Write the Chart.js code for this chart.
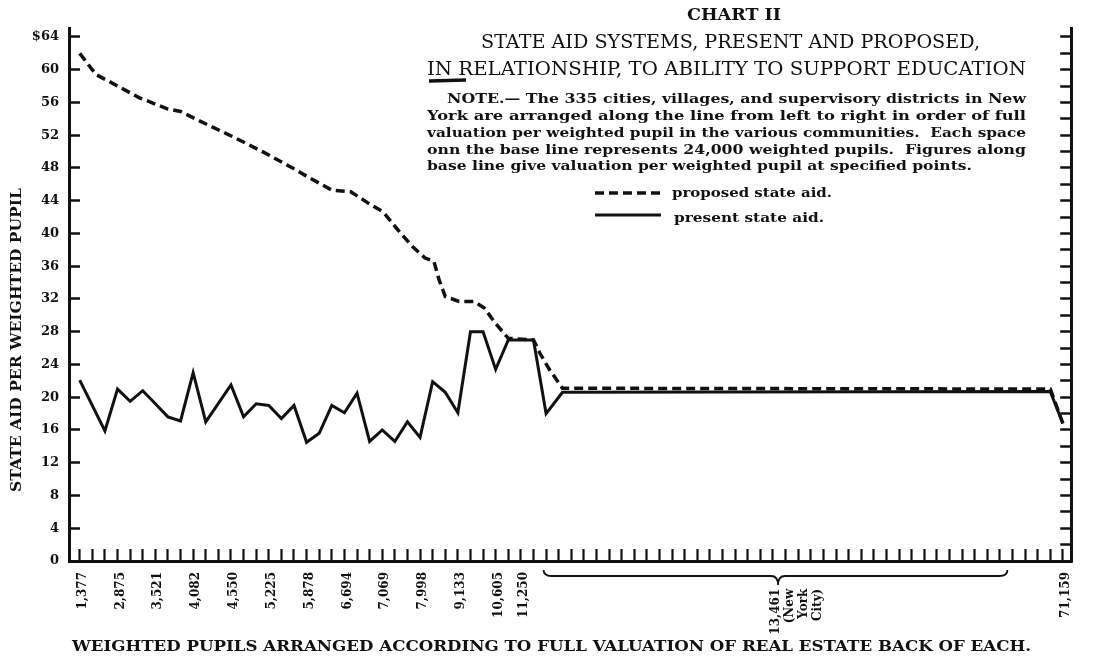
<!DOCTYPE html>
<html>
<head>
<meta charset="utf-8">
<script src="https://cdn.jsdelivr.net/npm/chart.js@4.4.1/dist/chart.umd.min.js"></script>
<style>
  body { margin: 0; background: #fff; }
  canvas { display: block; }
</style>
</head>
<body>
<canvas id="myChart" width="1100" height="658"></canvas>
<script>
    // x = position on the base line, in spaces of 24,000 weighted pupils
    var presentX = [0, 2, 3, 4, 5, 6, 7, 8, 9, 10, 12, 13, 14, 15, 16, 17, 18, 19, 20, 21, 22, 23, 24, 25, 26, 27, 28, 29, 30, 31, 32, 33, 34, 36, 37, 38.3, 77, 78];
    var presentY = [22.1, 15.9, 21.0, 19.5, 20.8, 19.2, 17.6, 17.1, 23.0, 17.0, 21.5, 17.6, 19.2, 19.0, 17.4, 19.0, 14.5, 15.6, 19.0, 18.1, 20.5, 14.6, 16.0, 14.6, 17.0, 15.1, 21.9, 20.6, 18.1, 28.0, 28.0, 23.4, 27.0, 27.0, 18.0, 20.6, 20.7, 16.8];

    var proposedX = [0, 1.3, 2.3, 4.7, 7.0, 8.0, 9.3, 11.9, 14.5, 17.0, 18.1, 20.0, 21.5, 22.8, 24.1, 25.1, 26.4, 27.4, 28.1, 28.5, 29.0, 30.1, 31.3, 32.1, 33.0, 34.0, 36.0, 36.5, 37.3, 38.3, 77, 78];
    var proposedY = [62.0, 59.4, 58.6, 56.6, 55.2, 54.9, 53.9, 52.0, 50.0, 47.9, 46.9, 45.3, 45.1, 43.8, 42.6, 40.7, 38.4, 37.0, 36.6, 34.4, 32.3, 31.7, 31.7, 30.9, 29.0, 27.2, 27.0, 25.4, 23.3, 21.1, 21.0, 16.8];

    // valuation per weighted pupil written along the base line
    var labelAt = [0, 3, 6, 9, 12, 15, 18, 21, 24, 27, 30, 33, 35, 55, 78];
    var labelText = ['1,377', '2,875', '3,521', '4,082', '4,550', '5,225', '5,878', '6,694', '7,069', '7,998', '9,133', '10,605', '11,250',
                     ['13,461    ', '(New    ', 'York    ', 'City)    '], '71,159'];

    var spaces = 78;      // ticks on the base line
    var yTop = 64;
    var yStep = 2;

    var noteLines = [
      'NOTE.\u2014 The 335 cities, villages, and supervisory districts in New',
      'York are arranged along the line from left to right in order of full',
      'valuation per weighted pupil in the various communities.  Each space',
      'onn the base line represents 24,000 weighted pupils.  Figures along',
      'base line give valuation per weighted pupil at specified points.'
    ];

    var serif = '"DejaVu Serif", "Liberation Serif", serif';
    var ink = '#111';

    function toPoints(xs, ys) {
      return xs.map(function (x, i) { return {x: x, y: ys[i]}; });
    }

    // draw text squeezed or stretched to a given width
    function fitText(ctx, text, x, y, w, font) {
      ctx.save();
      ctx.font = font;
      var m = ctx.measureText(text).width;
      ctx.translate(x, y);
      ctx.scale(w / m, 1);
      ctx.fillText(text, 0, 0);
      ctx.restore();
    }

    var decorations = {
      id: 'decorations',
      afterDraw: function (chart) {
        var ctx = chart.ctx;
        var xs = chart.scales.x;
        var bottom = chart.chartArea.bottom;
        ctx.save();
        ctx.fillStyle = ink;
        ctx.strokeStyle = ink;
        ctx.textBaseline = 'middle';
        ctx.textAlign = 'left';

        // heading
        fitText(ctx, 'CHART II', 687, 16, 94, 'bold 17px ' + serif);
        fitText(ctx, 'STATE AID SYSTEMS, PRESENT AND PROPOSED,', 481, 43, 499, '18px ' + serif);
        fitText(ctx, 'IN RELATIONSHIP, TO ABILITY TO SUPPORT EDUCATION', 427, 70, 599, '18px ' + serif);
        ctx.lineWidth = 3.5;
        ctx.beginPath();
        ctx.moveTo(429, 81);
        ctx.lineTo(466, 80);
        ctx.stroke();

        // note
        var noteFont = 'bold 13.5px ' + serif;
        fitText(ctx, noteLines[0], 447, 99, 579, noteFont);
        fitText(ctx, noteLines[1], 427, 116, 599, noteFont);
        fitText(ctx, noteLines[2], 427, 133, 599, noteFont);
        fitText(ctx, noteLines[3], 427, 150, 599, noteFont);
        fitText(ctx, noteLines[4], 427, 166, 545, noteFont);

        // legend
        ctx.lineWidth = 3.5;
        ctx.setLineDash([9, 5]);
        ctx.beginPath();
        ctx.moveTo(595, 193);
        ctx.lineTo(663, 193);
        ctx.stroke();
        ctx.setLineDash([]);
        ctx.lineWidth = 3;
        ctx.beginPath();
        ctx.moveTo(595, 215);
        ctx.lineTo(661, 215);
        ctx.stroke();
        fitText(ctx, 'proposed state aid.', 672, 193, 160, 'bold 13.5px ' + serif);
        fitText(ctx, 'present state aid.', 674, 218, 150, 'bold 13.5px ' + serif);

        // axis titles
        fitText(ctx, 'WEIGHTED PUPILS ARRANGED ACCORDING TO FULL VALUATION OF REAL ESTATE BACK OF EACH.', 72, 647, 959, 'bold 15px ' + serif);
        ctx.save();
        ctx.translate(17, 492);
        ctx.rotate(-Math.PI / 2);
        fitText(ctx, 'STATE AID PER WEIGHTED PUPIL', 0, 0, 304, 'bold 15px ' + serif);
        ctx.restore();

        // brace under the New York City spaces
        var a = xs.getPixelForValue(36.8), b = xs.getPixelForValue(73.6), m = xs.getPixelForValue(55.4);
        ctx.lineWidth = 1.8;
        ctx.beginPath();
        ctx.moveTo(a, bottom + 9);
        ctx.quadraticCurveTo(a, bottom + 15, a + 8, bottom + 15);
        ctx.lineTo(m - 7, bottom + 15);
        ctx.quadraticCurveTo(m, bottom + 15, m, bottom + 24);
        ctx.quadraticCurveTo(m, bottom + 15, m + 7, bottom + 15);
        ctx.lineTo(b - 8, bottom + 15);
        ctx.quadraticCurveTo(b, bottom + 15, b, bottom + 9);
        ctx.stroke();
        ctx.restore();
      }
    };

    function stepTicks(scale) {
      var t = [];
      for (var v = 0; v <= yTop; v += yStep) t.push({value: v});
      scale.ticks = t;
    }

    var ctx = document.getElementById('myChart').getContext('2d');
    var chart = new Chart(ctx, {
        type: 'line',
        data: {
            datasets: [{
                label: 'proposed state aid.',
                data: toPoints(proposedX, proposedY),
                borderColor: ink,
                borderWidth: 3.5,
                borderDash: [9, 5],
                pointRadius: 0,
                tension: 0,
                fill: false
              },
              {
                label: 'present state aid.',
                data: toPoints(presentX, presentY),
                borderColor: ink,
                borderWidth: 3,
                pointRadius: 0,
                tension: 0,
                fill: false
              }
            ]
        },
        options: {
            responsive: false,
            animation: false,
            layout: { padding: { top: 5, left: 0, right: 0, bottom: 0 } },
            plugins: {
                legend: { display: false },
                tooltip: { enabled: false }
            },
            scales: {
                x: {
                    type: 'linear',
                    min: -0.85,
                    max: 78.66,
                    afterBuildTicks: function (scale) {
                      var t = [];
                      for (var i = 0; i <= spaces; i++) t.push({value: i});
                      scale.ticks = t;
                    },
                    afterFit: function (scale) { scale.height = 97; },
                    ticks: {
                      autoSkip: false,
                      minRotation: 90,
                      maxRotation: 90,
                      padding: 23,
                      labelOffset: 3,
                      color: ink,
                      font: { family: serif, weight: 'bold', size: 12, lineHeight: 1.17 },
                      callback: function (value) {
                        var k = labelAt.indexOf(value);
                        return k >= 0 ? labelText[k] : '';
                      }
                    },
                    grid: { drawOnChartArea: false, drawTicks: true, tickLength: -12, tickWidth: 2.2, tickColor: ink },
                    border: { display: true, color: ink, width: 3 }
                },
                y: {
                    position: 'left',
                    min: 0,
                    max: 65,
                    afterBuildTicks: stepTicks,
                    afterFit: function (scale) { scale.width = 69; },
                    ticks: {
                      padding: 21,
                      color: ink,
                      font: { family: serif, weight: 'bold', size: 13 },
                      callback: function (value) {
                        if (value % 4 !== 0) return '';
                        return value === yTop ? '$' + value : String(value);
                      }
                    },
                    grid: { drawOnChartArea: false, drawTicks: true, tickLength: -11, tickWidth: 2.5, tickColor: ink },
                    border: { display: true, color: ink, width: 3 }
                },
                y2: {
                    position: 'right',
                    min: 0,
                    max: 65,
                    afterBuildTicks: stepTicks,
                    afterFit: function (scale) { scale.width = 8.3; },
                    ticks: { display: false },
                    grid: { drawOnChartArea: false, drawTicks: true, tickLength: -11, tickWidth: 2.5, tickColor: ink },
                    border: { display: true, color: ink, width: 3 }
                }
            }
        },
        plugins: [decorations]
    });
</script>
</body>
</html>
